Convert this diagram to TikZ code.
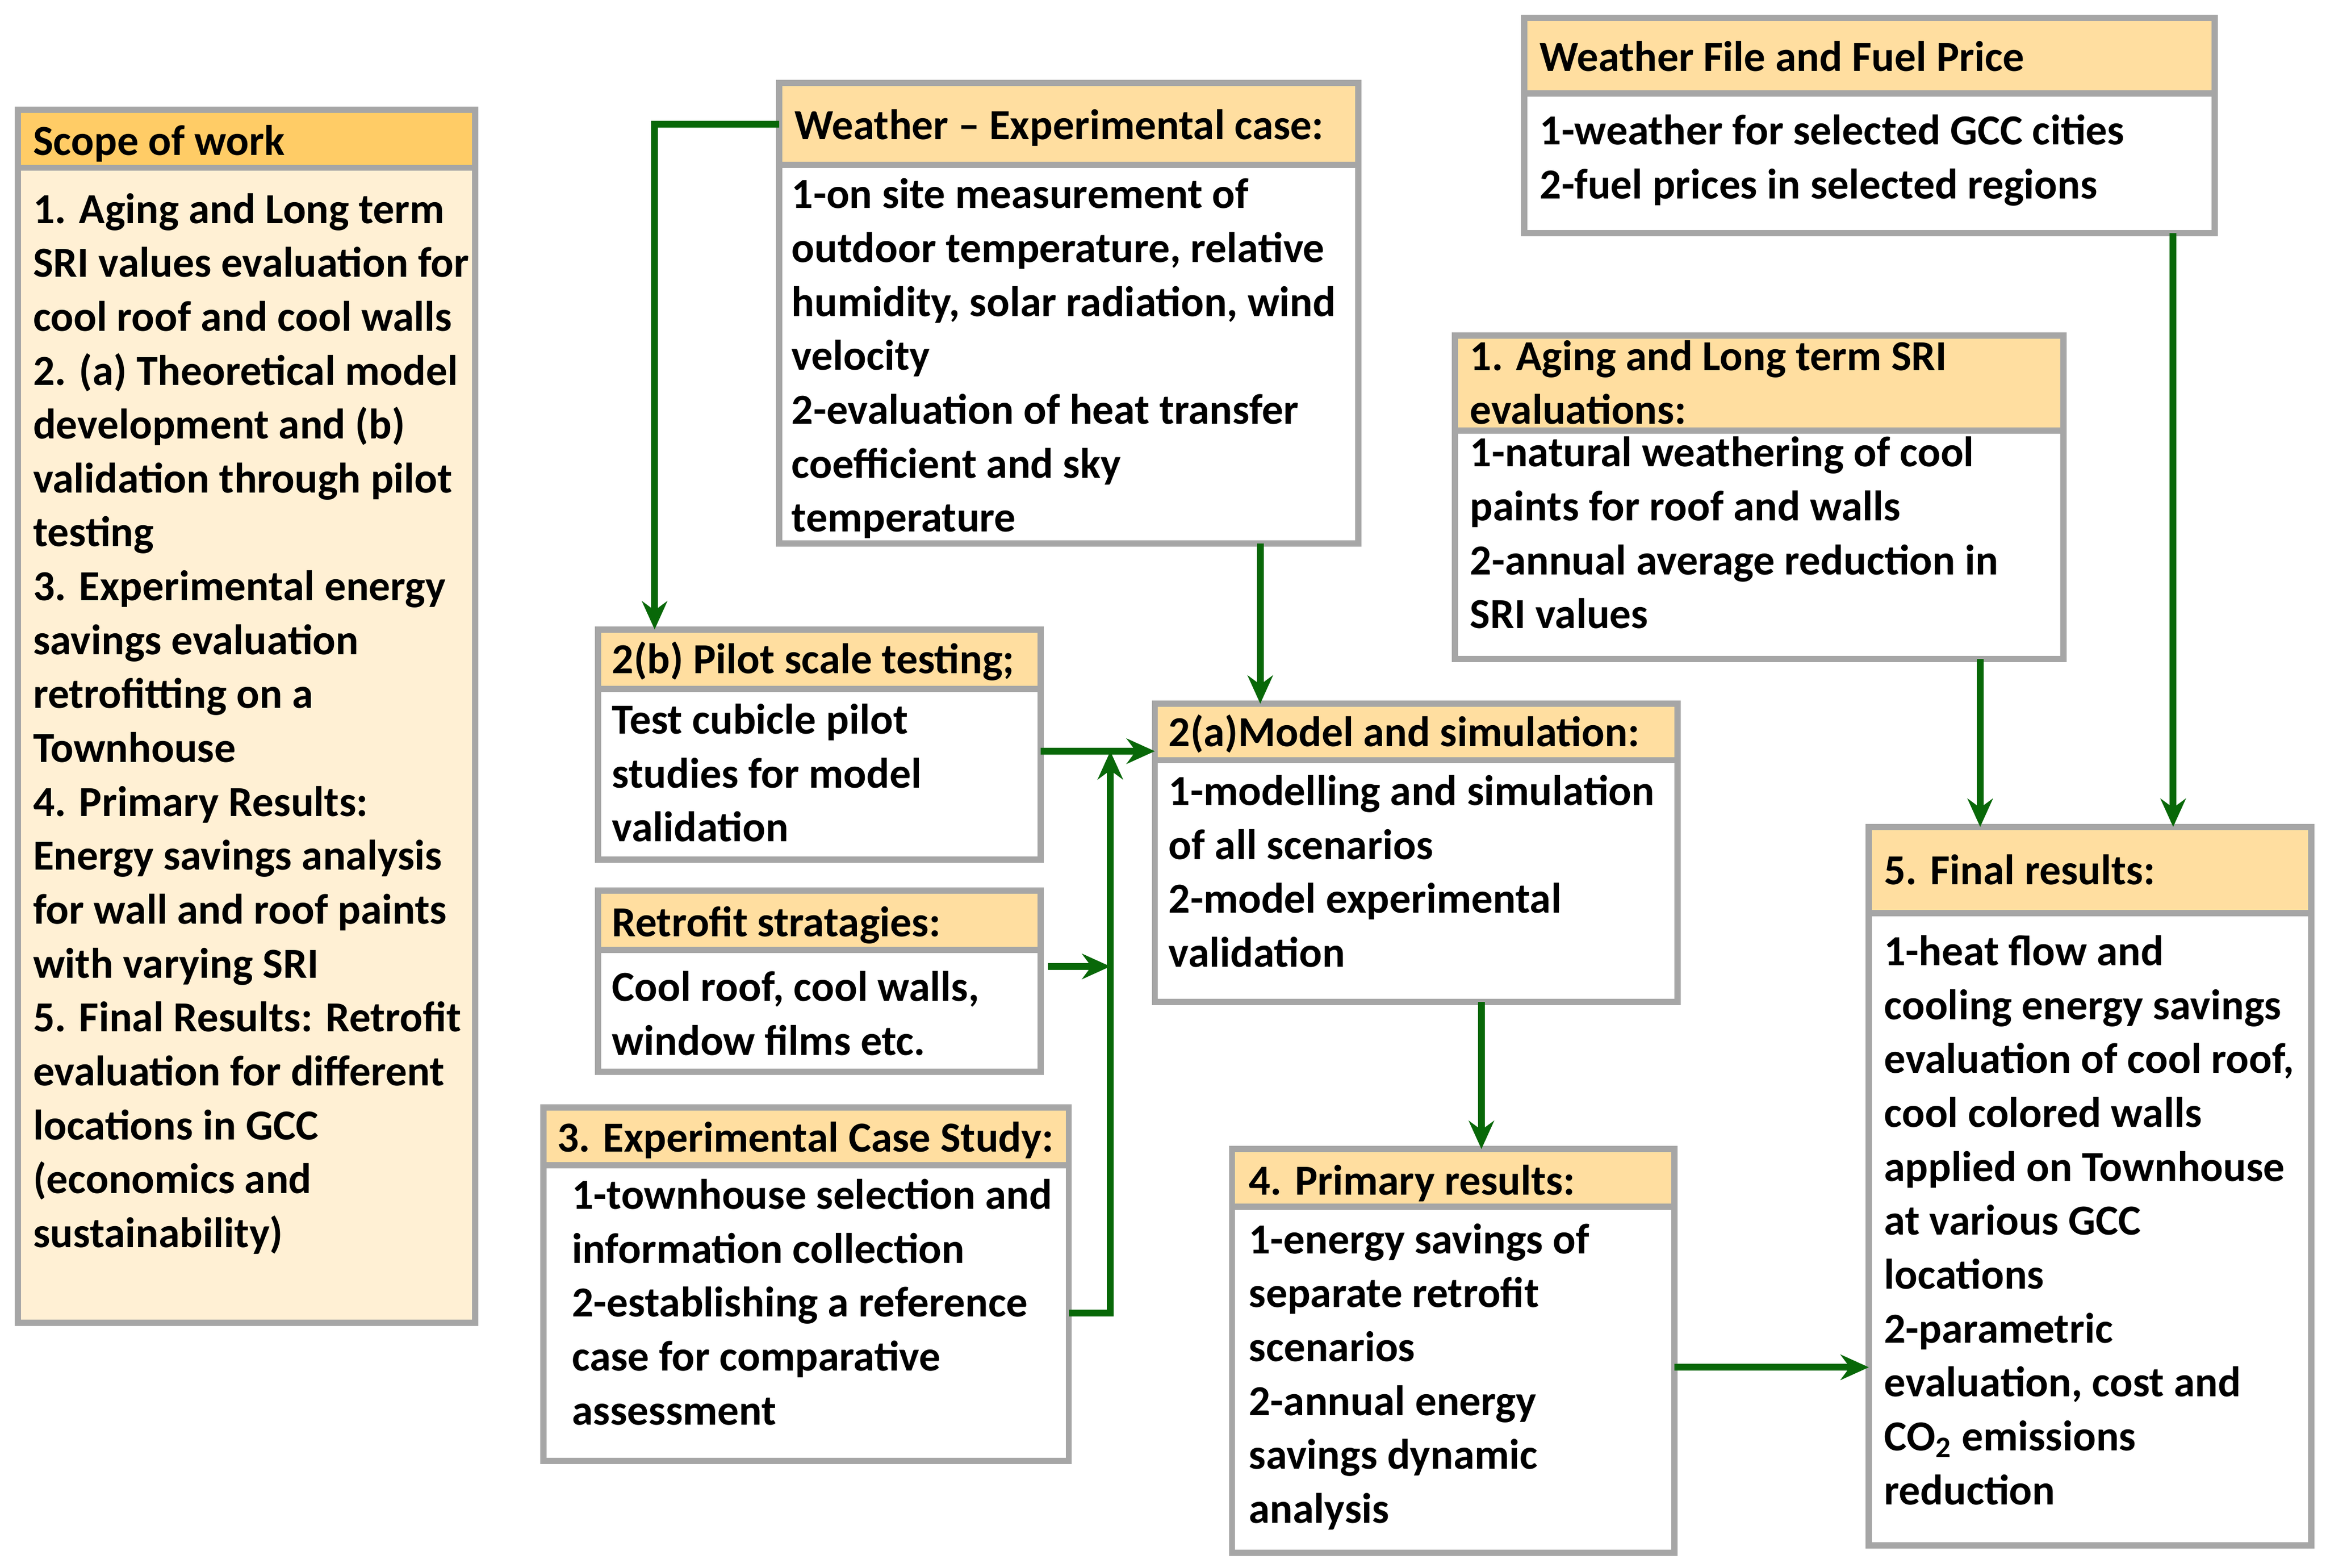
\documentclass[tikz,border=0pt]{standalone}
\usepackage{fontspec}
\setmainfont{Carlito}
\usetikzlibrary{arrows.meta}
\definecolor{boxgray}{RGB}{166,166,166}
\definecolor{hdorange}{RGB}{255,222,160}
\definecolor{scopehd}{RGB}{255,204,102}
\definecolor{scopebd}{RGB}{255,240,212}
\definecolor{flowgreen}{RGB}{8,104,8}
\tikzset{
  hd/.style={draw=boxgray,line width=2.4pt,fill=hdorange,anchor=north west,inner sep=0pt,outer sep=0pt},
  bd/.style={draw=boxgray,line width=2.4pt,fill=white,anchor=north west,inner sep=0pt,outer sep=0pt},
  txt/.style={anchor=north west,align=left,inner sep=0pt,font=\bfseries\fontsize{16.4}{20.66}\selectfont,
    execute at begin node={\rule{0pt}{14pt}}},
  flow/.style={draw=flowgreen,line width=2.6pt,-{Stealth[length=3.8mm,width=3.4mm]}},
}
\begin{document}
\begin{tikzpicture}[x=0.2mm,y=-0.2mm]
  \useasboundingbox[fill=white] (0,0) rectangle (1567,1056);

  % Scope of work (left column)
  \node[bd,fill=scopebd,minimum width=61.6mm,minimum height=155.6mm] (scb) at (12,113) {};
  \node[hd,fill=scopehd,minimum width=61.6mm,minimum height=7.8mm] (sch) at (12,74) {};
  \node[txt] (scht) at (22,79.5) {Scope of work};
  \node[txt] (scbt) at (22,129.8) {1. Aging and Long term\\SRI values evaluation for\\cool roof and cool walls\\
    2. (a) Theoretical model\\development and (b)\\validation through pilot\\testing\\
    3. Experimental energy\\savings evaluation\\retrofitting on a\\Townhouse\\
    4. Primary Results:\\Energy savings analysis\\for wall and roof paints\\with varying SRI\\
    5. Final Results: Retrofit\\evaluation for different\\locations in GCC\\(economics and\\sustainability)};

  % Weather -- experimental case
  \node[bd,minimum width=78mm,minimum height=51mm] (wxb) at (525,111) {};
  \node[hd,minimum width=78mm,minimum height=11mm] (wxh) at (525,56) {};
  \node[txt] (wxht) at (535,68.8) {Weather -- Experimental case:};
  \node[txt] (wxbt) at (533,119.8) {1-on site measurement of\\outdoor temperature, relative\\humidity, solar radiation, wind\\velocity\\
    2-evaluation of heat transfer\\coefficient and sky\\temperature};

  % Weather file and fuel price
  \node[bd,minimum width=93mm,minimum height=18.8mm] (wfb) at (1027,63) {};
  \node[hd,minimum width=93mm,minimum height=10.2mm] (wfh) at (1027,12) {};
  \node[txt] (wfht) at (1037,22.8) {Weather File and Fuel Price};
  \node[txt] (wfbt) at (1037,76.8) {1-weather for selected GCC cities\\2-fuel prices in selected regions};

  % Aging
  \node[bd,minimum width=82mm,minimum height=30.8mm] (agb) at (980,290) {};
  \node[hd,minimum width=82mm,minimum height=12.8mm] (agh) at (980,226) {};
  \node[txt] (aght) at (990,228.8) {1. Aging and Long term SRI\\evaluations:};
  \node[txt] (agbt) at (990,293.8) {1-natural weathering of cool\\paints for roof and walls\\
    2-annual average reduction in\\SRI values};

  % Pilot scale testing
  \node[bd,minimum width=59.6mm,minimum height=23mm] (ptb) at (403,464) {};
  \node[hd,minimum width=59.6mm,minimum height=8mm] (pth) at (403,424) {};
  \node[txt] (ptht) at (412,428.8) {2(b) Pilot scale testing;};
  \node[txt] (ptbt) at (412,473.8) {Test cubicle pilot\\studies for model\\validation};

  % Retrofit
  \node[bd,minimum width=59.6mm,minimum height=16.4mm] (rtb) at (403,640) {};
  \node[hd,minimum width=59.6mm,minimum height=8mm] (rth) at (403,600) {};
  \node[txt] (rtht) at (412,605.8) {Retrofit stratagies:};
  \node[txt] (rtbt) at (412,653.8) {Cool roof, cool walls,\\window films etc.};

  % Case study
  \node[bd,minimum width=70.8mm,minimum height=39.8mm] (csb) at (366,785) {};
  \node[hd,minimum width=70.8mm,minimum height=7.8mm] (csh) at (366,746) {};
  \node[txt] (csht) at (375,750.8) {3. Experimental Case Study:};
  \node[txt] (csbt) at (385,793.8) {1-townhouse selection and\\information collection\\
    2-establishing a reference\\case for comparative\\assessment};

  % Model and simulation
  \node[bd,minimum width=70.4mm,minimum height=32.6mm] (mdb) at (778,512) {};
  \node[hd,minimum width=70.4mm,minimum height=7.6mm] (mdh) at (778,474) {};
  \node[txt] (mdht) at (787,477.8) {2(a)Model and simulation:};
  \node[txt] (mdbt) at (787,521.8) {1-modelling and simulation\\of all scenarios\\
    2-model experimental\\validation};

  % Primary results
  \node[bd,minimum width=59.6mm,minimum height=46.6mm] (prb) at (830,813) {};
  \node[hd,minimum width=59.6mm,minimum height=7.8mm] (prh) at (830,774) {};
  \node[txt] (prht) at (841,779.8) {4. Primary results:};
  \node[txt] (prbt) at (841,823.8) {1-energy savings of\\separate retrofit\\scenarios\\
    2-annual energy\\savings dynamic\\analysis};

  % Final results
  \node[bd,minimum width=59.6mm,minimum height=85.2mm] (fnb) at (1259,615) {};
  \node[hd,minimum width=59.6mm,minimum height=11.6mm] (fnh) at (1259,557) {};
  \node[txt] (fnht) at (1269,570.8) {5. Final results:};
  \node[txt] (fnbt) at (1269,629.8) {1-heat flow and\\cooling energy savings\\evaluation of cool roof,\\
    cool colored walls\\applied on Townhouse\\at various GCC\\locations\\
    2-parametric\\evaluation, cost and\\CO\textsubscript{2} emissions\\reduction};

  % junction points
  \coordinate (pj) at ([yshift=-8.4mm]ptb.north east);
  \coordinate (rj) at ([xshift=1mm,yshift=-2.2mm]rtb.north east);
  \coordinate (vx) at ([xshift=5.6mm]csb.east);
  \coordinate (wj) at ([xshift=64.8mm]wxb.south west);
  \coordinate (mj) at ([xshift=44mm]mdb.south west);
  \coordinate (pk) at ([yshift=-21.6mm]prb.north east);
  \coordinate (aj) at ([xshift=70.8mm]agb.south west);
  \coordinate (fj) at ([xshift=87.4mm]wfb.south west);

  % connectors
  \draw[flow] (wxh.west) -| ([xshift=7.6mm]pth.north west);
  \draw[flow] (wj) -- (wj |- mdh.north);
  \draw[flow] (pj) -- (pj -| mdh.west);
  \draw[flow] (rj) -- (rj -| vx);
  \draw[flow] (csb.east) -- (vx) -- (vx |- pj);
  \draw[flow] (mj) -- (mj |- prh.north);
  \draw[flow] (pk) -- (pk -| fnb.west);
  \draw[flow] (aj) -- (aj |- fnh.north);
  \draw[flow] (fj) -- (fj |- fnh.north);
\end{tikzpicture}
\end{document}
